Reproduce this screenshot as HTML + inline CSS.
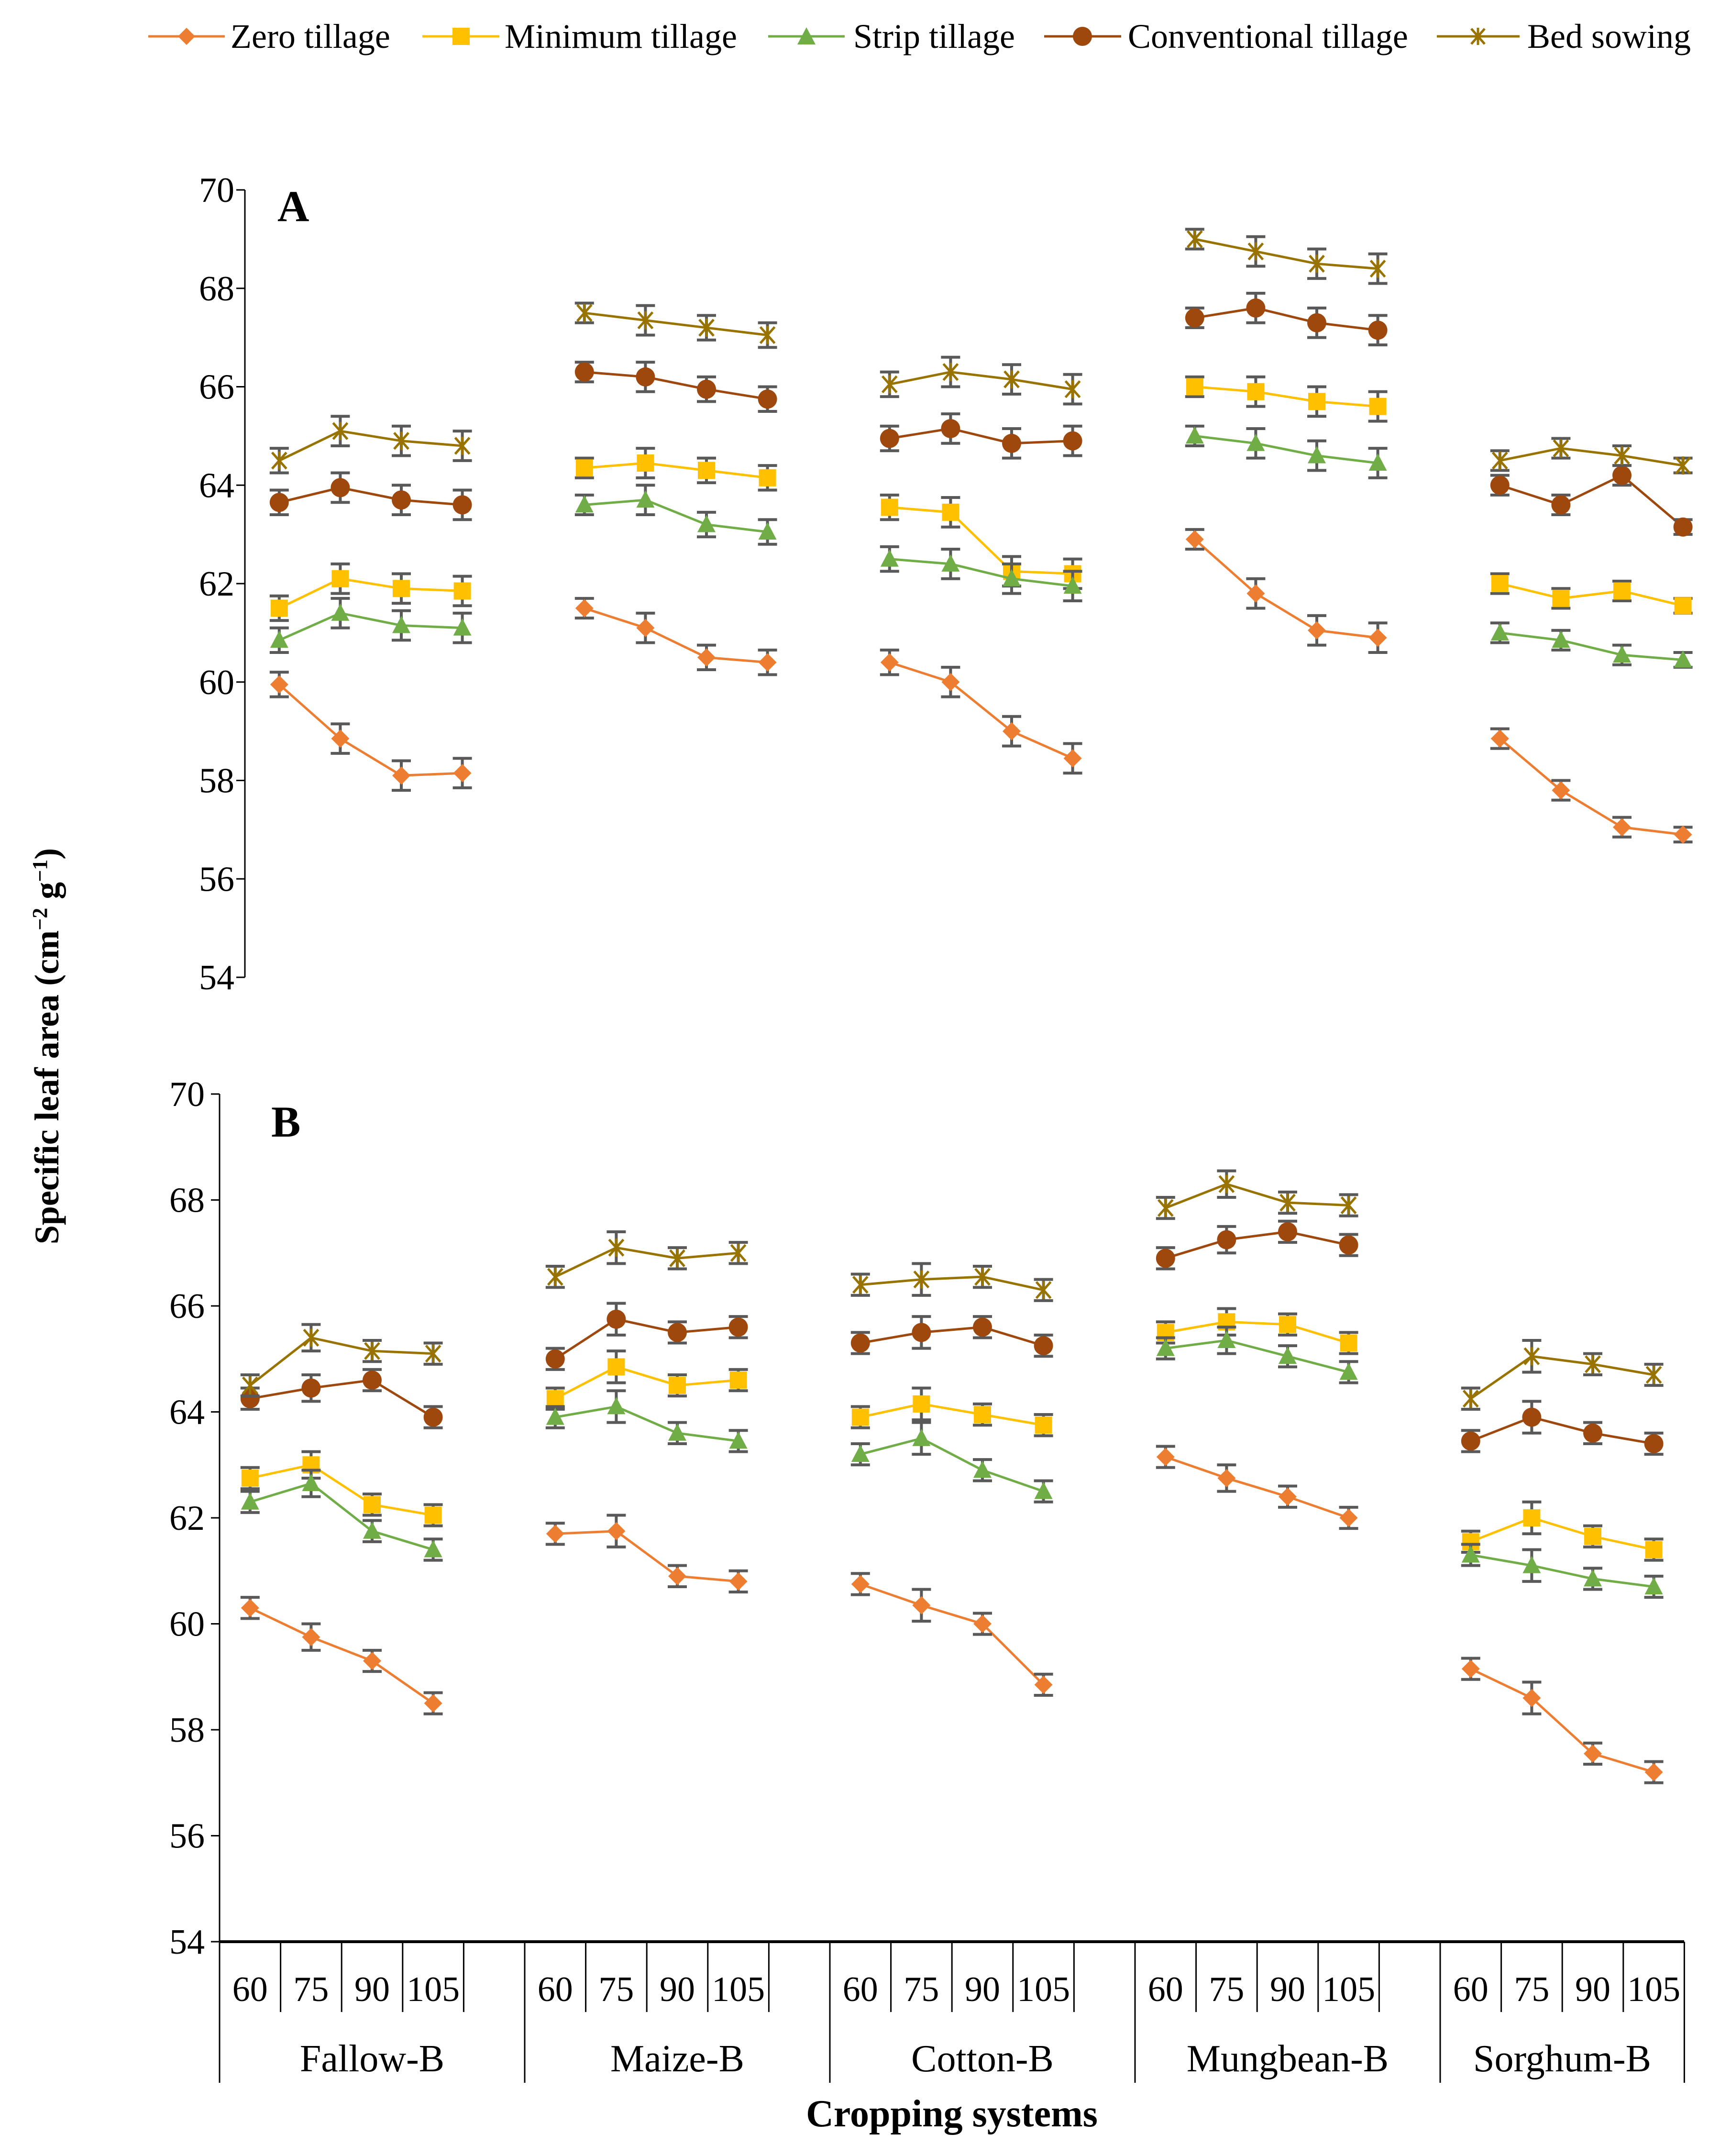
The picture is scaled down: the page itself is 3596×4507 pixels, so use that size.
<!DOCTYPE html>
<html><head><meta charset="utf-8">
<style>
html,body{margin:0;padding:0;background:#fff;}
svg{display:block;}
svg text{font-family:"Liberation Serif","DejaVu Serif",serif;}
</style></head>
<body>
<svg id="chart" width="3596" height="4507" viewBox="0 0 3596 4507" xmlns="http://www.w3.org/2000/svg" font-family="Liberation Serif, serif">
<g id="legend" font-size="72">
  <g><line x1="310" y1="76" x2="470" y2="76" stroke="#ED7D31" stroke-width="5"/><polygon points="390,58 408,76 390,94 372,76" fill="#ED7D31"/><text x="482" y="100">Zero tillage</text></g>
  <g><line x1="883" y1="76" x2="1044" y2="76" stroke="#FFC000" stroke-width="5"/><rect x="946" y="58" width="36" height="36" fill="#FFC000"/><text x="1055" y="100">Minimum tillage</text></g>
  <g><line x1="1606" y1="76" x2="1766" y2="76" stroke="#70AD47" stroke-width="5"/><polygon points="1686,57 1705,93 1667,93" fill="#70AD47"/><text x="1784" y="100">Strip tillage</text></g>
  <g><line x1="2183" y1="76" x2="2344" y2="76" stroke="#9E480E" stroke-width="5"/><circle cx="2263" cy="76" r="20" fill="#9E480E"/><text x="2358" y="100">Conventional tillage</text></g>
  <g><line x1="3004" y1="76" x2="3177" y2="76" stroke="#997300" stroke-width="5"/><path d="M3076,60 L3104,92 M3076,92 L3104,60 M3090,58 L3090,94" stroke="#997300" stroke-width="5"/><text x="3193" y="100">Bed sowing</text></g>
</g>
<text x="0" y="0" font-size="72" font-weight="bold" text-anchor="middle" transform="translate(122,2187) rotate(-90)">Specific leaf area (cm<tspan dy="-24" font-size="44">−2</tspan><tspan dy="24"> g</tspan><tspan dy="-24" font-size="44">−1</tspan><tspan dy="24">)</tspan></text>
<text x="580" y="462" font-size="92" font-weight="bold">A</text>
<text x="567" y="2376" font-size="92" font-weight="bold">B</text>
<text x="1990" y="4445" font-size="80" font-weight="bold" text-anchor="middle">Cropping systems</text>
<g id="panelA"></g>
<g id="panelB"></g>
<g id="xaxis" font-size="74"></g>
</svg>
<script>
const groups = ["Fallow-B","Maize-B","Cotton-B","Mungbean-B","Sorghum-B"];
const days = ["60","75","90","105"];
const yTicks = [54,56,58,60,62,64,66,68,70];
const seriesNames = ["Zero tillage","Minimum tillage","Strip tillage","Conventional tillage","Bed sowing"];
const seriesColors = ["#ED7D31","#FFC000","#70AD47","#9E480E","#997300"];
const seriesMarkers = ["diamond","square","triangle","circle","star"];

const aZero  = [59.95,58.85,58.1,58.15, 61.5,61.1,60.5,60.4, 60.4,60.0,59.0,58.45, 62.9,61.8,61.05,60.9, 58.85,57.8,57.05,56.9];
const aMin   = [61.5,62.1,61.9,61.85, 64.35,64.45,64.3,64.15, 63.55,63.45,62.25,62.2, 66.0,65.9,65.7,65.6, 62.0,61.7,61.85,61.55];
const aStrip = [60.85,61.4,61.15,61.1, 63.6,63.7,63.2,63.05, 62.5,62.4,62.1,61.95, 65.0,64.85,64.6,64.45, 61.0,60.85,60.55,60.45];
const aConv  = [63.65,63.95,63.7,63.6, 66.3,66.2,65.95,65.75, 64.95,65.15,64.85,64.9, 67.4,67.6,67.3,67.15, 64.0,63.6,64.2,63.15];
const aBed   = [64.5,65.1,64.9,64.8, 67.5,67.35,67.2,67.05, 66.05,66.3,66.15,65.95, 69.0,68.75,68.5,68.4, 64.5,64.75,64.6,64.4];
const aErr   = [0.25,0.3,0.3,0.3, 0.2,0.3,0.25,0.25, 0.25,0.3,0.3,0.3, 0.2,0.3,0.3,0.3, 0.2,0.2,0.2,0.15];

const bZero  = [60.3,59.75,59.3,58.5, 61.7,61.75,60.9,60.8, 60.75,60.35,60.0,58.85, 63.15,62.75,62.4,62.0, 59.15,58.6,57.55,57.2];
const bMin   = [62.75,63.0,62.25,62.05, 64.25,64.85,64.5,64.6, 63.9,64.15,63.95,63.75, 65.5,65.7,65.65,65.3, 61.55,62.0,61.65,61.4];
const bStrip = [62.3,62.65,61.75,61.4, 63.9,64.1,63.6,63.45, 63.2,63.5,62.9,62.5, 65.2,65.35,65.05,64.75, 61.3,61.1,60.85,60.7];
const bConv  = [64.25,64.45,64.6,63.9, 65.0,65.75,65.5,65.6, 65.3,65.5,65.6,65.25, 66.9,67.25,67.4,67.15, 63.45,63.9,63.6,63.4];
const bBed   = [64.5,65.4,65.15,65.1, 66.55,67.1,66.9,67.0, 66.4,66.5,66.55,66.3, 67.85,68.3,67.95,67.9, 64.25,65.05,64.9,64.7];
const bErr   = [0.2,0.25,0.2,0.2, 0.2,0.3,0.2,0.2, 0.2,0.3,0.2,0.2, 0.2,0.25,0.2,0.2, 0.2,0.3,0.2,0.2];

const NS = "http://www.w3.org/2000/svg";
function mk(tag, attrs, parent){ const e=document.createElementNS(NS,tag); for(const k in attrs) e.setAttribute(k,attrs[k]); parent.appendChild(e); return e; }
const SLOT = 127.6;
function slotIndex(i){ return Math.floor(i/4)*5 + (i%4); }

function drawPanel(g, left, axisX, yTop, yBot, data, err, labelRight, tag){
  const y = v => yBot - (v - 54) / 16 * (yBot - yTop);
  const x = i => left + SLOT*(slotIndex(i)+0.5);
  const ax = mk("line",{x1:axisX,y1:yTop,x2:axisX,y2:yBot,stroke:"#000","stroke-width":3},g);
  
  
  yTicks.forEach(t=>{
    const tl = mk("line",{x1:axisX-18,y1:y(t),x2:axisX,y2:y(t),stroke:"#000","stroke-width":3},g);
    
    
    const tx = mk("text",{x:labelRight,y:y(t)+25,"text-anchor":"end","font-size":74},g);
    tx.textContent = t;
    
    
  });
  data.forEach((vals, s)=>{
    const sg = mk("g",{},g);
    
    
    for(let grp=0; grp<5; grp++){
      const pts=[]; for(let k=0;k<4;k++){ const i=grp*4+k; pts.push(x(i)+","+y(vals[i])); }
      const pl = mk("polyline",{points:pts.join(" "),fill:"none",stroke:seriesColors[s],"stroke-width":5},sg);
      
      
    }
    vals.forEach((v,i)=>{
      const cx=x(i), cy=y(v), e=err[i];
      const eb = mk("path",{d:`M${cx},${y(v+e)} L${cx},${y(v-e)} M${cx-20},${y(v+e)} L${cx+20},${y(v+e)} M${cx-20},${y(v-e)} L${cx+20},${y(v-e)}`,stroke:"#595959","stroke-width":6,fill:"none"},sg);
      
      
      const c=seriesColors[s]; let m;
      switch(seriesMarkers[s]){
        case "diamond": m=mk("polygon",{points:`${cx},${cy-19} ${cx+19},${cy} ${cx},${cy+19} ${cx-19},${cy}`,fill:c},sg); break;
        case "square": m=mk("rect",{x:cx-18,y:cy-18,width:36,height:36,fill:c},sg); break;
        case "triangle": m=mk("polygon",{points:`${cx},${cy-20} ${cx+19},${cy+16} ${cx-19},${cy+16}`,fill:c},sg); break;
        case "circle": m=mk("circle",{cx:cx,cy:cy,r:20,fill:c},sg); break;
        default: m=mk("path",{d:`M${cx-15},${cy-17} L${cx+15},${cy+17} M${cx-15},${cy+17} L${cx+15},${cy-17} M${cx},${cy-19} L${cx},${cy+19}`,stroke:c,"stroke-width":5,fill:"none"},sg);
      }
      
      
    });
  });
}
drawPanel(document.getElementById("panelA"), 520, 512, 397, 2043, [aZero,aMin,aStrip,aConv,aBed], aErr, 490, "panel-a");
drawPanel(document.getElementById("panelB"), 459, 459, 2287, 4059, [bZero,bMin,bStrip,bConv,bBed], bErr, 428, "panel-b");

const xg = document.getElementById("xaxis");
const base = mk("line",{x1:459,y1:4059,x2:3521,y2:4059,stroke:"#000","stroke-width":6},xg);


for(let s=0;s<=24;s++){
  const xx = 459 + SLOT*s;
  const isGroup = (s%5===0) || s===24;
  const l = mk("line",{x1:xx,y1:4059,x2:xx,y2:isGroup?4354:4206,stroke:"#000","stroke-width":3},xg);
  
  
}
groups.forEach((gname, gi)=>{
  days.forEach((d,k)=>{
    const t = mk("text",{x:459+SLOT*(gi*5+k+0.5),y:4183,"text-anchor":"middle"},xg);
    t.textContent = d;
    
    
  });
  const gx0 = 459+SLOT*gi*5, gx1 = Math.min(3521, gx0+SLOT*5);
  const gt = mk("text",{x:(gx0+gx1)/2,y:4330,"text-anchor":"middle","font-size":80},xg);
  gt.textContent = gname;
  
  
});
</script>
</body></html>
